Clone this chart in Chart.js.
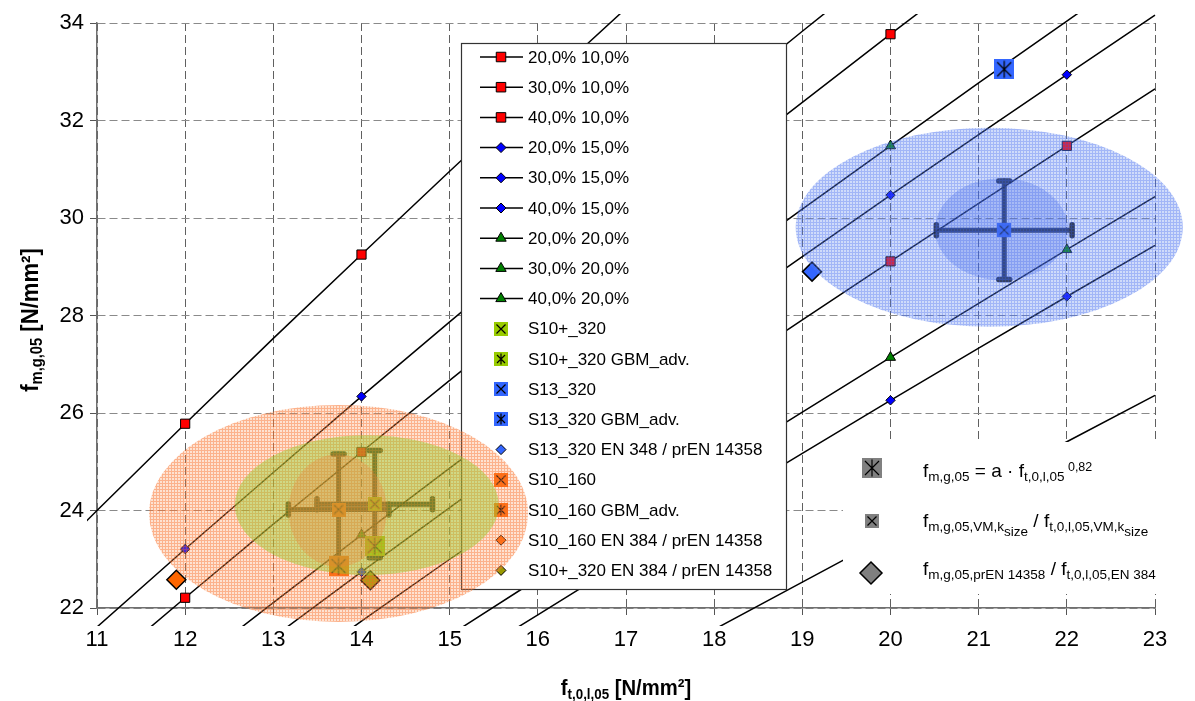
<!DOCTYPE html>
<html>
<head>
<meta charset="utf-8">
<script src="https://cdn.jsdelivr.net/npm/chart.js@4.4.0/dist/chart.umd.min.js"></script>
<style>
  html, body { margin: 0; padding: 0; background: #fff; }
</style>
</head>
<body>
<canvas id="chart" width="1195" height="701"></canvas>
<script>
// ---- data ----
const seriesLabels = ['20,0% 10,0%', '30,0% 10,0%', '40,0% 10,0%',
                      '20,0% 15,0%', '30,0% 15,0%', '40,0% 15,0%',
                      '20,0% 20,0%', '30,0% 20,0%', '40,0% 20,0%'];

// curves (fm = a * ft^0.82), values read at integer ft
const curveX     = [10, 11, 12, 13, 14, 15, 16, 17, 18, 19, 20, 21, 22, 23, 24];
const curve20_10 = [22.20, 24.00, 25.78, 27.53, 29.25, 30.96, 32.64, 34.30, 35.95, null, null, null, null, null, null];
const curve30_10 = [19.13, 20.68, 22.21, 23.72, 25.20, 26.67, 28.12, 29.55, 30.97, 32.37, 33.77, 35.15, null, null, null];
const curve40_10 = [null, null, 19.15, 20.45, 21.73, 23.00, 24.24, 25.48, 26.70, 27.91, 29.11, 30.30, 31.48, 32.65, 33.81];
const curve20_15 = [19.99, 21.61, 23.21, 24.78, 26.34, 27.87, 29.38, 30.88, 32.36, 33.83, 35.28, null, null, null, null];
const curve30_15 = [null, 18.66, 20.04, 21.40, 22.74, 24.06, 25.37, 26.66, 27.94, 29.21, 30.47, 31.71, 32.94, 34.16, 35.38];
const curve40_15 = [null, null, null, 18.44, 19.60, 20.74, 21.86, 22.98, 24.08, 25.17, 26.26, 27.33, 28.39, 29.44, 30.49];
const curve20_20 = [null, 19.28, 20.71, 22.11, 23.50, 24.87, 26.22, 27.55, 28.87, 30.18, 31.48, 32.77, 34.04, 35.30, null];
const curve30_20 = [null, null, null, 19.06, 20.26, 21.44, 22.60, 23.75, 24.89, 26.02, 27.14, 28.25, 29.35, 30.44, 31.52];
const curve40_20 = [null, null, null, null, null, null, 19.57, 20.57, 21.56, 22.53, 23.50, 24.46, 25.41, 26.36, 27.30];

// markers on the curves
const markX     = [12, 14, 20, 22];
const mark20_10 = [25.78, 29.25, null, null];
const mark30_10 = [22.21, 25.20, 33.77, null];
const mark40_10 = [null, null, 29.11, 31.48];
const mark20_15 = [23.21, 26.34, null, null];
const mark30_15 = [null, 22.74, 30.47, 32.94];
const mark40_15 = [null, null, 26.26, 28.39];
const mark20_20 = [null, 23.50, 31.48, null];
const mark30_20 = [null, null, 27.14, 29.35];
const mark40_20 = [null, null, 23.50, null];

// sample results
const sampleLabels = ['S10+_320', 'S10+_320 GBM_adv.', 'S13_320', 'S13_320 GBM_adv.',
                      'S13_320 EN 348 / prEN 14358', 'S10_160', 'S10_160 GBM_adv.',
                      'S10_160 EN 384 / prEN 14358', 'S10+_320 EN 384 / prEN 14358'];
const sampleX    = [14.15, 14.15, 21.29, 21.29, 19.11, 13.74, 13.74, 11.90, 14.10];
const sampleY    = [24.13, 23.27, 29.75, 33.05, 28.90, 24.02, 22.86, 22.58, 22.57];
const sampleErrX = [0.655, null, 0.77, null, null, 0.57, null, null, null];
const sampleErrY = [1.10, null, 1.01, null, null, 1.14, null, null, null];

// scatter regions (ellipses)
const regionCX = [13.74, 14.06, 13.73, 21.12, 21.26];
const regionCY = [23.94, 24.11, 24.00, 29.81, 29.77];
const regionRX = [2.149, 1.497, 0.558, 2.195, 0.754];
const regionRY = [2.226, 1.436, 1.155, 2.041, 1.046];

const xTicks = [11, 12, 13, 14, 15, 16, 17, 18, 19, 20, 21, 22, 23];
const yTicks = [22, 24, 26, 28, 30, 32, 34];

// ---- styles ----
const FONT = '"Liberation Sans", Arial, sans-serif';
const curves = [curve20_10, curve30_10, curve40_10, curve20_15, curve30_15, curve40_15, curve20_20, curve30_20, curve40_20];
const marks = [mark20_10, mark30_10, mark40_10, mark20_15, mark30_15, mark40_15, mark20_20, mark30_20, mark40_20];
const markStyle = [
  {kind: 'rect', color: '#FF0000'}, {kind: 'rect', color: '#FF0000'}, {kind: 'rect', color: '#FF0000'},
  {kind: 'diamond', color: '#0000FF'}, {kind: 'diamond', color: '#0000FF'}, {kind: 'diamond', color: '#0000FF'},
  {kind: 'tri', color: '#008000'}, {kind: 'tri', color: '#008000'}, {kind: 'tri', color: '#008000'}
];
const sampleStyle = [
  {kind: 'cross', color: '#99CC00'}, {kind: 'star', color: '#99CC00'},
  {kind: 'cross', color: '#3366FF'}, {kind: 'star', color: '#3366FF'}, {kind: 'diamond', color: '#3366FF'},
  {kind: 'cross', color: '#FF6600'}, {kind: 'star', color: '#FF6600'}, {kind: 'diamond', color: '#FF6600'},
  {kind: 'diamond', color: '#999900'}
];

function boxMarker(fill, size, star) {
  const c = document.createElement('canvas');
  c.width = size; c.height = size;
  const g = c.getContext('2d');
  g.fillStyle = fill;
  g.fillRect(0, 0, size, size);
  g.strokeStyle = '#000';
  g.lineWidth = 1.2;
  const m = star ? 3 : 2.5;
  g.beginPath();
  g.moveTo(m, m); g.lineTo(size - m, size - m);
  g.moveTo(size - m, m); g.lineTo(m, size - m);
  if (star) { g.moveTo(size / 2, 1.5); g.lineTo(size / 2, size - 1.5); }
  g.stroke();
  return c;
}

const ctx = document.getElementById('chart').getContext('2d');

function hatch(base, line) {
  const c = document.createElement('canvas');
  c.width = 3; c.height = 3;
  const g = c.getContext('2d');
  g.fillStyle = base; g.fillRect(0, 0, 3, 3);
  g.clearRect(0, 0, 3, 1); g.clearRect(0, 1, 1, 2);
  g.fillStyle = line; g.fillRect(0, 0, 3, 1); g.fillRect(0, 1, 1, 2);
  return ctx.createPattern(c, 'repeat');
}

const regionFill = [
  hatch('rgba(252,150,90,0.28)', 'rgba(250,115,45,0.55)'),
  'rgba(150,205,45,0.45)',
  'rgba(240,125,60,0.30)',
  hatch('rgba(95,135,240,0.30)', 'rgba(70,110,240,0.50)'),
  'rgba(60,100,230,0.28)'
];

// ---- datasets ----
const datasets = [];
curves.forEach((c, i) => {
  datasets.push({
    label: seriesLabels[i] + ' line',
    data: curveX.map((x, k) => ({x: x, y: c[k]})),
    showLine: true, borderColor: '#000', borderWidth: 1.5,
    pointRadius: 0, order: 10,
    clip: {left: 10, top: 9, right: 12, bottom: 18}
  });
});
const pointStyleOf = {rect: ['rect', 6.5], diamond: ['rectRot', 4.7], tri: ['triangle', 5.8]};
marks.forEach((m, i) => {
  const ps = pointStyleOf[markStyle[i].kind];
  datasets.push({
    label: seriesLabels[i],
    data: markX.map((x, k) => ({x: x, y: m[k]})),
    showLine: false, pointStyle: ps[0], pointRadius: ps[1],
    backgroundColor: markStyle[i].color, borderColor: '#000', borderWidth: 1, order: 5
  });
});
sampleLabels.forEach((lab, i) => {
  const st = sampleStyle[i];
  let ps, r = 10;
  if (st.kind === 'cross') ps = boxMarker(st.color, 14, false);
  else if (st.kind === 'star') ps = boxMarker(st.color, 20, true);
  else { ps = 'rectRot'; r = 9.5; }
  datasets.push({
    label: lab,
    data: [{x: sampleX[i], y: sampleY[i]}],
    showLine: false, pointStyle: ps, pointRadius: r,
    backgroundColor: st.color, borderColor: '#000', borderWidth: 1.5, order: 1
  });
});

// ---- helpers for drawing ----
function drawMark(g, kind, x, y, size, fill) {
  if (kind === 'cross' || kind === 'star') {
    const img = boxMarker(fill, size, kind === 'star');
    g.drawImage(img, Math.round(x - size / 2), Math.round(y - size / 2));
    return;
  }
  g.save();
  g.fillStyle = fill; g.strokeStyle = '#000'; g.lineWidth = 1;
  g.beginPath();
  if (kind === 'rect') {
    g.rect(x - size / 2, y - size / 2, size, size);
  } else if (kind === 'diamond') {
    g.moveTo(x, y - size); g.lineTo(x + size, y); g.lineTo(x, y + size); g.lineTo(x - size, y); g.closePath();
  } else if (kind === 'tri') {
    g.moveTo(x, y - size); g.lineTo(x + size * 0.866, y + size * 0.5); g.lineTo(x - size * 0.866, y + size * 0.5); g.closePath();
  }
  g.fill(); g.stroke();
  g.restore();
}

function rich(g, x, y, parts, weight, family) {
  for (const p of parts) {
    g.font = (weight || '') + ' ' + p[1] + 'px ' + (family || FONT);
    g.fillText(p[0], x, y + p[2]);
    x += g.measureText(p[0]).width;
  }
  return x;
}
function richWidth(g, parts, weight, family) {
  let w = 0;
  for (const p of parts) {
    g.font = (weight || '') + ' ' + p[1] + 'px ' + (family || FONT);
    w += g.measureText(p[0]).width;
  }
  return w;
}

const overlay = {
  id: 'overlay',
  beforeDatasetsDraw(chart) {
    const g = chart.ctx, xs = chart.scales.x, ys = chart.scales.y;
    g.save();
    g.strokeStyle = '#222';
    g.lineCap = 'round';
    sampleX.forEach((sx, i) => {
      if (sampleErrX[i] == null) return;
      const cx = xs.getPixelForValue(sx), cy = ys.getPixelForValue(sampleY[i]);
      const x0 = xs.getPixelForValue(sx - sampleErrX[i]), x1 = xs.getPixelForValue(sx + sampleErrX[i]);
      const y0 = ys.getPixelForValue(sampleY[i] + sampleErrY[i]), y1 = ys.getPixelForValue(sampleY[i] - sampleErrY[i]);
      g.lineWidth = 5;
      g.beginPath();
      g.moveTo(x0, cy); g.lineTo(x1, cy);
      g.moveTo(cx, y0); g.lineTo(cx, y1);
      g.stroke();
      g.lineWidth = 5.5;
      g.beginPath();
      g.moveTo(x0, cy - 5.5); g.lineTo(x0, cy + 5.5);
      g.moveTo(x1, cy - 5.5); g.lineTo(x1, cy + 5.5);
      g.moveTo(cx - 5.5, y0); g.lineTo(cx + 5.5, y0);
      g.moveTo(cx - 5.5, y1); g.lineTo(cx + 5.5, y1);
      g.stroke();
    });
    g.restore();
  },
  afterDatasetsDraw(chart) {
    const g = chart.ctx, xs = chart.scales.x, ys = chart.scales.y;
    // legend box
    g.save();
    g.fillStyle = '#fff';
    g.fillRect(461, 43, 325, 546);
    g.strokeStyle = '#333';
    g.lineWidth = 1.2;
    g.strokeRect(461.5, 43.5, 325, 546);
    g.textBaseline = 'middle';
    const rows = [];
    seriesLabels.forEach((l, i) => rows.push({label: l, line: true, kind: markStyle[i].kind, color: markStyle[i].color}));
    sampleLabels.forEach((l, i) => rows.push({label: l, line: false, kind: sampleStyle[i].kind, color: sampleStyle[i].color}));
    rows.forEach((r, i) => {
      const y = 57 + i * 30.2;
      if (r.line) {
        g.strokeStyle = '#000'; g.lineWidth = 1.5;
        g.beginPath(); g.moveTo(480, y); g.lineTo(523, y); g.stroke();
      }
      const size = r.kind === 'rect' ? 9.5 : r.kind === 'diamond' ? 5 : r.kind === 'tri' ? 6 : 14;
      drawMark(g, r.kind, 501, y, size, r.color);
      g.fillStyle = '#000';
      g.font = '17px ' + FONT;
      g.fillText(r.label, 528, y + 1);
    });
    g.restore();

    // ellipses
    g.save();
    regionCX.forEach((cx, i) => {
      const px = xs.getPixelForValue(cx), py = ys.getPixelForValue(regionCY[i]);
      const rx = xs.getPixelForValue(cx + regionRX[i]) - px;
      const ry = py - ys.getPixelForValue(regionCY[i] + regionRY[i]);
      g.fillStyle = regionFill[i];
      g.beginPath();
      g.ellipse(px, py, rx, ry, 0, 0, Math.PI * 2);
      g.fill();
    });
    g.restore();

    // formula box
    g.save();
    g.fillStyle = '#fff';
    g.fillRect(843, 442, 330, 152);
    drawMark(g, 'star', 872, 468, 20, '#808080');
    drawMark(g, 'cross', 872, 521, 14, '#808080');
    g.fillStyle = '#808080'; g.strokeStyle = '#000'; g.lineWidth = 1.5;
    g.beginPath();
    g.moveTo(871, 562); g.lineTo(882, 573); g.lineTo(871, 584); g.lineTo(860, 573); g.closePath();
    g.fill(); g.stroke();
    g.fillStyle = '#000';
    g.textBaseline = 'alphabetic';
    rich(g, 923, 477, [['f', 19, 0], ['m,g,05', 13.5, 4], [' = a \u00b7 f', 19, 0], ['t,0,l,05', 13.5, 4], [' 0,82', 12.5, -6]]);
    rich(g, 923, 527, [['f', 19, 0], ['m,g,05,VM,k', 13.5, 4], ['size', 13.5, 9], [' / f', 19, 0], ['t,0,l,05,VM,k', 13.5, 4], ['size', 13.5, 9]]);
    rich(g, 923, 575, [['f', 19, 0], ['m,g,05,prEN 14358', 13.5, 4], [' / f', 19, 0], ['t,0,l,05,EN 384', 13.5, 4]]);
    g.restore();
  },
  afterDraw(chart) {
    const g = chart.ctx;
    const xt = [['f', 22, 0], ['t,0,l,05', 14.5, 4], [' [N/mm\u00b2]', 22, 0]];
    const yt = [['f', 24, 0], ['m,g,05', 16, 4], [' [N/mm\u00b2]', 24, 0]];
    g.save();
    g.fillStyle = '#000';
    g.textBaseline = 'alphabetic';
    let w = richWidth(g, xt, 'bold');
    g.save();
    g.translate(626, 695);
    g.scale(0.92, 1);
    rich(g, -w / 2, 0, xt, 'bold');
    g.restore();
    g.translate(38, 320);
    g.rotate(-Math.PI / 2);
    g.scale(0.92, 1);
    w = richWidth(g, yt, 'bold');
    rich(g, -w / 2, 0, yt, 'bold');
    g.restore();
  }
};

new Chart(ctx, {
  type: 'scatter',
  data: {datasets: datasets},
  plugins: [overlay],
  options: {
    responsive: false,
    devicePixelRatio: 1,
    animation: false,
    events: [],
    layout: {padding: {top: 23, right: 40, left: 0, bottom: 0}},
    plugins: {legend: {display: false}, tooltip: {enabled: false}},
    scales: {
      x: {
        type: 'linear', min: 11, max: 23,
        afterBuildTicks: s => { s.ticks = xTicks.map(v => ({value: v})); },
        afterFit: s => { s.height = 93; },
        ticks: {color: '#000', font: {size: 22, family: FONT}, padding: 12, maxRotation: 0},
        grid: {color: '#606060', lineWidth: 1, tickLength: 7, tickColor: '#555', tickBorderDash: []},
        border: {display: true, color: '#707070', width: 1.5, dash: [8, 4]}
      },
      y: {
        type: 'linear', min: 22, max: 34,
        afterBuildTicks: s => { s.ticks = yTicks.map(v => ({value: v})); },
        afterFit: s => { s.width = 97; },
        ticks: {color: '#000', font: {size: 22, family: FONT}, padding: 6},
        grid: {color: '#8a8a8a', lineWidth: 1, tickLength: 7, tickColor: '#555', tickBorderDash: []},
        border: {display: true, color: '#707070', width: 1.5, dash: [8, 4]}
      }
    }
  }
});
</script>
</body>
</html>
